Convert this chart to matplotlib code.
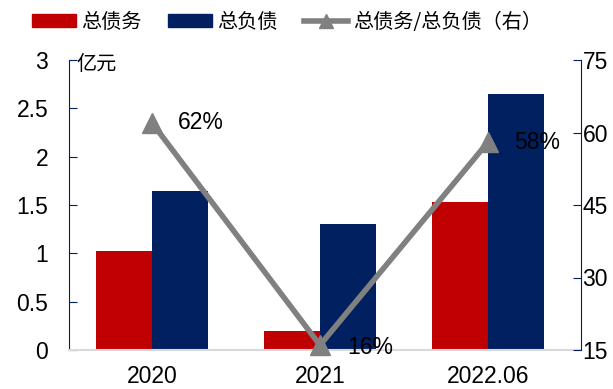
import matplotlib
matplotlib.use("Agg")
import matplotlib.pyplot as plt
import numpy as np
from matplotlib.patches import Patch
from matplotlib.lines import Line2D

categories = ["2020", "2021", "2022.06"]
total_debt = [1.02, 0.20, 1.53]
total_liab = [1.64, 1.30, 2.65]
ratio = [62, 16, 58]
ratio_labels = ["62%", "16%", "58%"]
left_ticks = [0, 0.5, 1, 1.5, 2, 2.5, 3]
left_tick_labels = ["0", "0.5", "1", "1.5", "2", "2.5", "3"]
right_ticks = [15, 30, 45, 60, 75]
right_tick_labels = ["15", "30", "45", "60", "75"]

RED = "#C00000"
NAVY = "#002060"
GRAY = "#808080"
NUM_FONT = ["Liberation Sans", "Noto Sans CJK SC"]
CJK_FONT = ["Noto Sans CJK SC", "DejaVu Sans"]
FS = 16.5

fig = plt.figure(figsize=(6.13, 3.89), dpi=100)
ax = fig.add_axes([69/613, 39/389, 512/613, 290/389])
x = np.arange(len(categories))
w = 0.333
ax.bar(x - w/2, total_debt, width=w, color=RED, zorder=2)
ax.bar(x + w/2, total_liab, width=w, color=NAVY, zorder=2)
ax.set_xlim(-0.494, 2.554)
ax.set_ylim(0, 3)
ax.set_yticks(left_ticks)
ax.set_yticklabels(left_tick_labels, fontfamily=NUM_FONT, fontsize=FS)
ax.set_xticks(x)
ax.set_xticklabels(categories, fontfamily=NUM_FONT, fontsize=FS)
ax.tick_params(axis="x", length=0, pad=11)
ax.tick_params(axis="y", direction="in", length=6, color=NAVY, pad=15)
for s in ["top", "right"]:
    ax.spines[s].set_visible(False)
ax.spines["left"].set_color(NAVY)
ax.spines["bottom"].set_color("#D9D9D9")
ax.spines["bottom"].set_linewidth(1.5)
ax.text(0.015, 0.986, "亿元", transform=ax.transAxes, fontfamily=CJK_FONT,
        fontsize=14.5, va="center", ha="left")

ax2 = ax.twinx()
ax2.set_ylim(15, 75)
ax2.set_yticks(right_ticks)
ax2.set_yticklabels(right_tick_labels, fontfamily=NUM_FONT, fontsize=FS)
ax2.tick_params(axis="y", direction="in", length=6, color=NAVY, pad=1)
for s in ["top", "left", "bottom"]:
    ax2.spines[s].set_visible(False)
ax2.spines["right"].set_color(NAVY)
ax2.plot(x, ratio, color=GRAY, lw=4, marker="^", markersize=15,
         markerfacecolor=GRAY, markeredgecolor=GRAY, zorder=3, clip_on=False)
offsets = [(0.155, 0.0), (0.16, -0.5), (0.155, 0.0)]
for xi, r, lab, (dx, dy) in zip(x, ratio, ratio_labels, offsets):
    ax2.text(xi + dx, r + dy, lab, fontfamily=NUM_FONT, fontsize=FS,
             va="center", ha="left", zorder=4)

handles = [
    Patch(color=RED, label="总债务"),
    Patch(color=NAVY, label="总负债"),
    Line2D([0], [0], color=GRAY, lw=4, marker="^", markersize=10,
           label="总债务/总负债（右）"),
]
leg = fig.legend(handles=handles, loc="center left", bbox_to_anchor=(0.052, 0.943),
                 ncol=3, frameon=False, prop={"family": CJK_FONT, "size": 14.5},
                 handlelength=2.2, handleheight=0.6, handletextpad=0.25,
                 columnspacing=1.3, borderaxespad=0, borderpad=0)

fig.savefig("out.png", dpi=100)
